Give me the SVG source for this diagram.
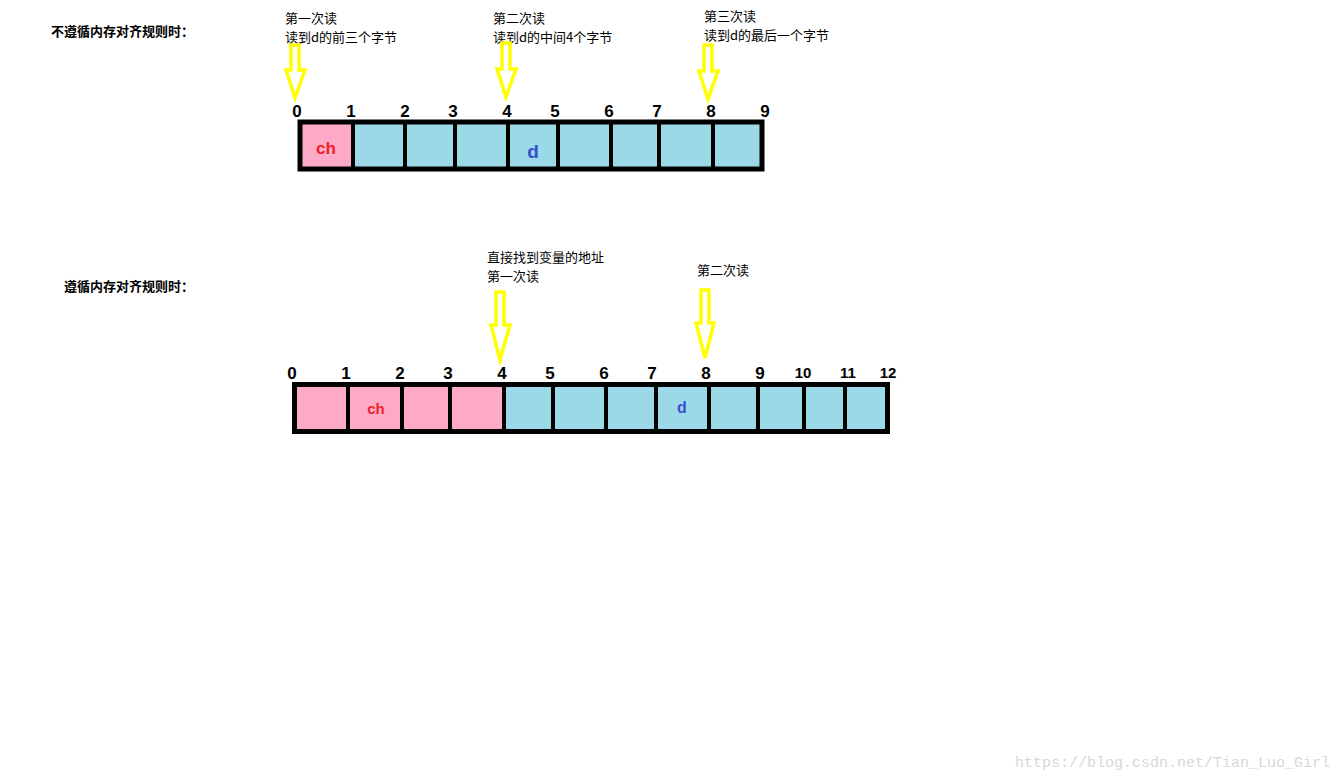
<svg xmlns="http://www.w3.org/2000/svg" width="1343" height="781" viewBox="0 0 1343 781">
<style>
.cjk{font-family:"Noto Sans CJK SC","Liberation Sans",sans-serif;font-size:13px;fill:#000}
.title{font-family:"Noto Sans CJK SC",sans-serif;font-size:13px;font-weight:bold;fill:#000}
.num{font-family:"Liberation Sans",sans-serif;font-size:17px;font-weight:bold;fill:#000;text-anchor:middle}
.num2{font-family:"Liberation Sans",sans-serif;font-size:15px;font-weight:bold;fill:#000;text-anchor:middle}
.pink{fill:#fcaac6}
.blue{fill:#9cd9e8}
.frame{fill:none;stroke:#000;stroke-width:5}
.div{stroke:#000;stroke-width:4}
.arr{fill:#fff;stroke:#ffff00;stroke-width:3.5;stroke-linejoin:miter}
.lbl{font-family:"Liberation Sans",sans-serif;font-weight:bold;text-anchor:middle}
</style>
<rect width="1343" height="781" fill="#fff"/>
<text class="title" x="51" y="36">不遵循内存对齐规则时：</text>
<text class="title" x="64" y="291">遵循内存对齐规则时：</text>
<g id="labels-top">
<text class="cjk" x="285" y="23">第一次读</text>
<text class="cjk" x="285" y="42">读到d的前三个字节</text>
<text class="cjk" x="493" y="23">第二次读</text>
<text class="cjk" x="493" y="42">读到d的中间4个字节</text>
<text class="cjk" x="704" y="21">第三次读</text>
<text class="cjk" x="704" y="40">读到d的最后一个字节</text>
<text class="cjk" x="487" y="262">直接找到变量的地址</text>
<text class="cjk" x="487" y="281">第一次读</text>
<text class="cjk" x="697" y="275">第二次读</text>
</g>
<g id="arrows">
<polygon class="arr" points="291,45 299,45 299,70 305,70 295,98 286,70 291,70"/>
<polygon class="arr" points="502,43 510,43 510,69 516,69 506,97 497,69 502,69"/>
<polygon class="arr" points="704,45 712,45 712,71 718,71 708,99 699,71 704,71"/>
<polygon class="arr" points="496,292 504,292 504,325 510,325 500,360 491,325 496,325"/>
<polygon class="arr" points="701,290 709,290 709,323 714,323 705,358 696,323 701,323"/>
</g>
<g id="array-top">
<rect class="pink" x="298" y="120" width="55" height="51"/>
<rect class="blue" x="353" y="120" width="411" height="51"/>
<rect class="frame" x="300" y="122" width="462" height="47"/>
<g class="div">
<line x1="353" y1="120" x2="353" y2="171"/><line x1="405" y1="120" x2="405" y2="171"/>
<line x1="455" y1="120" x2="455" y2="171"/><line x1="508" y1="120" x2="508" y2="171"/>
<line x1="558" y1="120" x2="558" y2="171"/><line x1="611" y1="120" x2="611" y2="171"/>
<line x1="659" y1="120" x2="659" y2="171"/><line x1="713" y1="120" x2="713" y2="171"/>
</g>
<text class="lbl" x="326" y="154" font-size="17" fill="#f0202a">ch</text>
<text class="lbl" x="533" y="158" font-size="19" fill="#3a4fd0">d</text>
<text class="num" x="297" y="117">0</text><text class="num" x="351" y="117">1</text>
<text class="num" x="405" y="117">2</text><text class="num" x="453" y="117">3</text>
<text class="num" x="507" y="117">4</text><text class="num" x="555" y="117">5</text>
<text class="num" x="609" y="117">6</text><text class="num" x="657" y="117">7</text>
<text class="num" x="711" y="117">8</text><text class="num" x="765" y="117">9</text>
</g>
<g id="array-bottom">
<rect class="pink" x="292" y="382" width="212" height="52"/>
<rect class="blue" x="504" y="382" width="386" height="52"/>
<rect class="frame" x="294.500" y="384.500" width="593" height="47"/>
<g class="div">
<line x1="348" y1="382" x2="348" y2="434"/><line x1="402" y1="382" x2="402" y2="434"/>
<line x1="450" y1="382" x2="450" y2="434"/><line x1="504" y1="382" x2="504" y2="434"/>
<line x1="553" y1="382" x2="553" y2="434"/><line x1="606" y1="382" x2="606" y2="434"/>
<line x1="656" y1="382" x2="656" y2="434"/><line x1="709" y1="382" x2="709" y2="434"/>
<line x1="758" y1="382" x2="758" y2="434"/><line x1="804" y1="382" x2="804" y2="434"/>
<line x1="845" y1="382" x2="845" y2="434"/>
</g>
<text class="lbl" x="376" y="414" font-size="15" fill="#f0202a">ch</text>
<text class="lbl" x="682" y="413" font-size="16" fill="#3a4fd0">d</text>
<text class="num" x="292" y="379">0</text><text class="num" x="346" y="379">1</text>
<text class="num" x="400" y="379">2</text><text class="num" x="448" y="379">3</text>
<text class="num" x="502" y="379">4</text><text class="num" x="550" y="379">5</text>
<text class="num" x="604" y="379">6</text><text class="num" x="652" y="379">7</text>
<text class="num" x="706" y="379">8</text><text class="num" x="760" y="379">9</text>
<text class="num2" x="803" y="378">10</text><text class="num2" x="848" y="378">11</text>
<text class="num2" x="888" y="378">12</text>
</g>
<text x="1330" y="767" font-family="Liberation Mono,monospace" font-size="15" fill="#d8d8d8" text-anchor="end">https://blog.csdn.net/Tian_Luo_Girl</text>
</svg>
